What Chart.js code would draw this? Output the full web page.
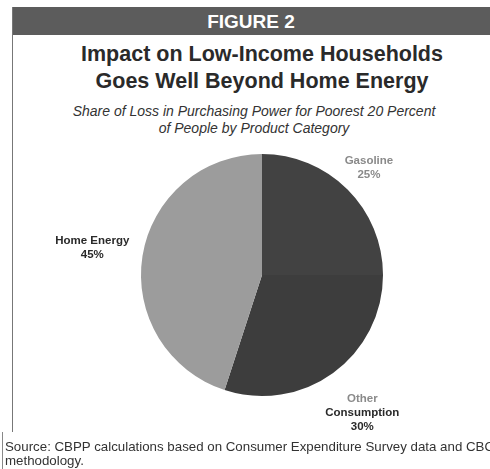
<!DOCTYPE html>
<html>
<head>
<meta charset="utf-8">
<script src="https://cdn.jsdelivr.net/npm/chart.js@4.4.1/dist/chart.umd.min.js"></script>
<style>
  body { margin: 0; background: #fff; font-family: "Liberation Sans", Arial, sans-serif; }
  #page { position: relative; width: 490px; height: 469px; overflow: hidden; }
  #bar { position: absolute; left: 12px; top: 7px; width: 478px; height: 28px; background: #5c5c5c;
         color: #fff; font-weight: bold; font-size: 19px; text-align: center; line-height: 29px; }
  #frame { position: absolute; left: 12px; top: 7px; width: 0; height: 425px; border-left: 1px solid #777; }
  #frame2 { position: absolute; left: 2px; top: 432px; width: 0; height: 37px; border-left: 1px solid #888; }
  .title { position: absolute; left: 12px; width: 500px; text-align: center; font-weight: bold;
           font-size: 21.5px; color: #2a2a2a; }
  .sub { position: absolute; left: 12px; width: 484px; text-align: center; font-style: italic;
         font-size: 14px; color: #333; }
  .src { position: absolute; left: 5px; white-space: nowrap; font-size: 13.3px; color: #333; }
  #chartBox { position: absolute; left: 0; top: 140px; width: 490px; height: 300px; }
</style>
</head>
<body>
<div id="page">
  <div id="bar">FIGURE 2</div>
  <div id="frame"></div>
  <div id="frame2"></div>
  <div class="title" style="top:42px">Impact on Low-Income Households</div>
  <div class="title" style="top:69px">Goes Well Beyond Home Energy</div>
  <div class="sub" style="top:103px">Share of Loss in Purchasing Power for Poorest 20 Percent</div>
  <div class="sub" style="top:120px">of People by Product Category</div>
  <div id="chartBox"><canvas id="pieCanvas"></canvas></div>
  <div class="src" style="top:439px">Source: CBPP calculations based on Consumer Expenditure Survey data and CBO</div>
  <div class="src" style="top:453px">methodology.</div>
</div>
<script>
// Pie data: share of loss in purchasing power by product category
const categories = ["Gasoline", "Other Consumption", "Home Energy"];
const labelLines = [["Gasoline"], ["Other", "Consumption"], ["Home Energy"]];
const shares = [25, 30, 45];

const sliceColors = ["#424242", "#3d3d3d", "#9c9c9c"];

// Draws each slice's name and percent outside the pie, along its middle angle
const sliceLabels = {
    id: "sliceLabels",
    afterDatasetsDraw(chart, args, opts) {
        const ctx = chart.ctx;
        const arcs = chart.getDatasetMeta(0).data;
        ctx.save();
        ctx.font = "bold 11.5px 'Liberation Sans', Arial, sans-serif";
        ctx.textAlign = "center";
        ctx.textBaseline = "middle";
        arcs.forEach((arc, i) => {
            const p = arc.getProps(["x", "y", "startAngle", "endAngle", "outerRadius"], true);
            const mid = (p.startAngle + p.endAngle) / 2;
            const r = p.outerRadius * opts.distance[i];
            const cx = p.x + Math.cos(mid) * r;
            const cy = p.y + Math.sin(mid) * r;
            const lines = labelLines[i].concat([shares[i] + "%"]);
            const top = cy - (lines.length - 1) * opts.lineHeight / 2;
            lines.forEach((txt, j) => {
                ctx.fillStyle = opts.colors[i][j];
                ctx.fillText(txt, cx, top + j * opts.lineHeight);
            });
        });
        ctx.restore();
    }
};

new Chart(document.getElementById("pieCanvas"), {
    type: "pie",
    data: {
        labels: categories,
        datasets: [{
            data: shares,
            backgroundColor: sliceColors,
            borderWidth: 0
        }]
    },
    options: {
        responsive: true,
        maintainAspectRatio: false,
        animation: false,
        layout: { padding: { left: 34, top: 14, bottom: 44 } },
        plugins: {
            legend: { display: false },
            tooltip: { enabled: false },
            sliceLabels: {
                distance: [1.25, 1.41, 1.42],
                lineHeight: 14,
                colors: [["#8a8a8a", "#8a8a8a"], ["#8a8a8a", "#2a2a2a", "#2a2a2a"], ["#2a2a2a", "#2a2a2a"]]
            }
        }
    },
    plugins: [sliceLabels]
});
</script>
</body>
</html>
